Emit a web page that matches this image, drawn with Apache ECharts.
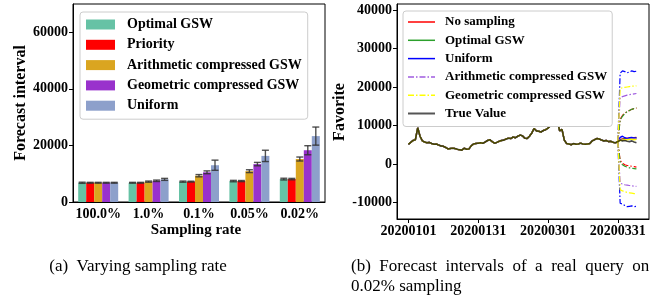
<!DOCTYPE html>
<html>
<head>
<meta charset="utf-8">
<script src="https://cdn.jsdelivr.net/npm/echarts@6/dist/echarts.min.js"></script>
<style>
  html, body { margin: 0; padding: 0; background: #fff; }
  #chart { width: 668px; height: 301px; }
</style>
</head>
<body>
<div id="chart"></div>
<script>
// ---- (a) varying sampling rate ----
const rates = ['100.0%', '1.0%', '0.1%', '0.05%', '0.02%'];
const barNames = ['Optimal GSW', 'Priority', 'Arithmetic compressed GSW', 'Geometric compressed GSW', 'Uniform'];
const optimalMean = [6800, 6800, 7200, 7400, 8100];
const priorityMean = [6800, 6800, 7200, 7400, 8100];
const arithmeticMean = [6800, 7200, 9300, 10900, 15200];
const geometricMean = [6800, 7500, 10500, 13400, 18300];
const uniformMean = [6800, 8000, 13000, 16300, 23300];
const optimalErr = [200, 150, 200, 250, 300];
const priorityErr = [150, 150, 150, 200, 250];
const arithmeticErr = [150, 200, 400, 500, 700];
const geometricErr = [150, 250, 500, 600, 1600];
const uniformErr = [150, 350, 1800, 2000, 3200];
const leftTicks = [0, 20000, 40000, 60000];

// ---- (b) forecast intervals, days counted from 20200101 ----
const tickDays = [0, 30, 60, 90];
const tickLabels = ['20200101', '20200131', '20200301', '20200331'];
const rightTicks = [-10000, 0, 10000, 20000, 30000, 40000];
const trueValue = [
  5100, 5600, 6100, 6300, 9400, 7200, 6000, 5700, 5500, 5600,
  5300, 5100, 5200, 4900, 4700, 4600, 4300, 3900, 4000, 4100,
  4000, 3800, 3700, 3600, 4100, 3800, 3900, 4700, 5200, 5300,
  5400, 5500, 5400, 5700, 6100, 6300, 5800, 5400, 5600, 5900,
  6100, 6200, 6500, 6700, 6600, 7000, 6800, 7200, 7500, 7300,
  6700, 6600, 7200, 8000, 9200, 8600, 8500, 8300, 8700, 8900,
  9300, 9900, 11500, 12200, 11200, 8600, 9000, 6200, 5300, 5200,
  5000, 5300, 5100, 5200, 5400, 5200, 5100, 5200, 5300, 6000,
  6300, 6600, 6500, 6200, 6000, 6100, 5800, 5900, 5600, 5500,
  5800, 6200, 6000, 6100, 5900, 5800, 6000, 5700, 5500
];
const forecastDays = [90, 91, 92, 93, 94, 95, 96, 97, 98];
const noSamplingMid = [5800, 6300, 6500, 6600, 6700, 6700, 6800, 6800, 6900];
const noSamplingUp = [5800, 11600, 12600, 13200, 13600, 13900, 14200, 14400, 14500];
const noSamplingLow = [5800, 900, 200, -200, -400, -500, -600, -700, -800];
const optimalMid = [5800, 6200, 6400, 6500, 6500, 6600, 6600, 6700, 6700];
const optimalUp = [5800, 11400, 12400, 13100, 13600, 13900, 14200, 14400, 14600];
const optimalLow = [5800, 600, -200, -600, -800, -1000, -1100, -1200, -1300];
const uniformMid = [5800, 6900, 7200, 6800, 6600, 6800, 6900, 6700, 6800];
const uniformUp = [5800, 23600, 24200, 24000, 23700, 23900, 24200, 24000, 24100];
const uniformLow = [5800, -10200, -10400, -10800, -11100, -11000, -10900, -11100, -11000];
const arithmeticMid = [5800, 6400, 6300, 6300, 6400, 6400, 6500, 6500, 6500];
const arithmeticUp = [5800, 17300, 17500, 17700, 17900, 18000, 18100, 18200, 18300];
const arithmeticLow = [5800, -5000, -5200, -5400, -5500, -5600, -5700, -5800, -5800];
const geometricMid = [5800, 6100, 6200, 6300, 6300, 6400, 6400, 6300, 6400];
const geometricUp = [5800, 19600, 19800, 19900, 20000, 20100, 20200, 20200, 20300];
const geometricLow = [5800, -6700, -7000, -7200, -7400, -7500, -7600, -7700, -7700];

const serif = '"Liberation Serif", "DejaVu Serif", serif';
const barColors = ['#66c2a5', '#ff0000', '#daa520', '#9932cc', '#8da0cb'];
const means = [optimalMean, priorityMean, arithmeticMean, geometricMean, uniformMean];
const errs = [optimalErr, priorityErr, arithmeticErr, geometricErr, uniformErr];
const barW = 8;

function errorBar(offset) {
  return function (params, api) {
    const x = api.coord([api.value(0), 0])[0] + offset;
    const top = api.coord([api.value(0), api.value(1) + api.value(2)])[1];
    const bot = api.coord([api.value(0), api.value(1) - api.value(2)])[1];
    const style = { stroke: '#333', lineWidth: 1.4, opacity: 0.85 };
    return {
      type: 'group',
      children: [
        { type: 'line', shape: { x1: x, y1: top, x2: x, y2: bot }, style: style },
        { type: 'line', shape: { x1: x - 3.5, y1: top, x2: x + 3.5, y2: top }, style: style },
        { type: 'line', shape: { x1: x - 3.5, y1: bot, x2: x + 3.5, y2: bot }, style: style }
      ]
    };
  };
}

const series = [];
barNames.forEach(function (name, k) {
  series.push({
    type: 'bar', name: name, xAxisIndex: 0, yAxisIndex: 0,
    data: means[k], barWidth: barW, barGap: '0%',
    itemStyle: { color: barColors[k] }
  });
});
barNames.forEach(function (name, k) {
  series.push({
    type: 'custom', xAxisIndex: 0, yAxisIndex: 0, z: 5,
    renderItem: errorBar((k - 2) * barW),
    data: means[k].map(function (v, i) { return [i, v, errs[k][i]]; })
  });
});

const history = trueValue.slice(0, 91).map(function (v, i) { return [i, v]; });
function pairs(vals) { return vals.map(function (v, i) { return [forecastDays[i], v]; }); }
const dashDot = [6, 2, 1.5, 2];
const methods = [
  { name: 'b:No sampling', color: '#ff0000', mid: noSamplingMid, up: noSamplingUp, low: noSamplingLow },
  { name: 'b:Optimal GSW', color: '#2ca02c', mid: optimalMid, up: optimalUp, low: optimalLow },
  { name: 'b:Uniform', color: '#0000ff', mid: uniformMid, up: uniformUp, low: uniformLow },
  { name: 'b:Arithmetic compressed GSW', color: '#a05ce0', mid: arithmeticMid, up: arithmeticUp, low: arithmeticLow },
  { name: 'b:Geometric compressed GSW', color: '#ffff00', mid: geometricMid, up: geometricUp, low: geometricLow }
];
methods.forEach(function (m) {
  const base = { type: 'line', name: m.name, xAxisIndex: 1, yAxisIndex: 1, symbol: 'none', animation: false };
  series.push(Object.assign({}, base, {
    data: history.concat(pairs(m.mid).slice(1)),
    lineStyle: { color: m.color, width: 1.4 }, itemStyle: { color: m.color }
  }));
  series.push(Object.assign({}, base, {
    data: pairs(m.up), lineStyle: { color: m.color, width: 1.2, type: dashDot }, itemStyle: { color: m.color }
  }));
  series.push(Object.assign({}, base, {
    data: pairs(m.low), lineStyle: { color: m.color, width: 1.2, type: dashDot }, itemStyle: { color: m.color }
  }));
});
series.push({
  type: 'line', name: 'b:True Value', xAxisIndex: 1, yAxisIndex: 1, symbol: 'none', animation: false,
  data: trueValue.map(function (v, i) { return [i, v]; }),
  lineStyle: { color: 'rgba(0,0,0,0.72)', width: 1.6 }, itemStyle: { color: '#444' }
});

const plain = function (v) { return String(v); };
const axisFont = { fontFamily: serif, fontWeight: 'bold', fontSize: 14, color: '#000' };
const legendText = function (size, pad) {
  return { fontFamily: serif, fontWeight: 'bold', fontSize: size, lineHeight: size + 1, color: '#000', padding: [0, 0, 0, pad] };
};

const chart = echarts.init(document.getElementById('chart'), null, { renderer: 'canvas' });
chart.setOption({
  animation: false,
  grid: [
    { left: 73, right: 343, top: 4, bottom: 99, show: true, borderColor: '#000', borderWidth: 1 },
    { left: 397, right: 19, top: 4, bottom: 82, show: true, borderColor: '#000', borderWidth: 1 }
  ],
  xAxis: [
    {
      type: 'category', gridIndex: 0, data: rates,
      axisLine: { onZero: false, lineStyle: { color: '#000' } },
      axisTick: { show: false },
      axisLabel: Object.assign({ margin: 5, interval: 0 }, axisFont)
    },
    {
      type: 'value', gridIndex: 1, min: -4.9, max: 103.4,
      splitLine: { show: false },
      axisLine: { onZero: false, lineStyle: { color: '#000' } },
      axisTick: { customValues: tickDays, length: 4, lineStyle: { color: '#000' } },
      axisLabel: Object.assign({
        margin: 5, customValues: tickDays,
        formatter: function (v) { return tickLabels[tickDays.indexOf(v)]; }
      }, axisFont)
    }
  ],
  yAxis: [
    {
      type: 'value', gridIndex: 0, min: 0, max: 70000,
      splitLine: { show: false },
      axisLine: { show: true, onZero: false, lineStyle: { color: '#000' } },
      axisTick: { show: true, customValues: leftTicks, length: 4, lineStyle: { color: '#000' } },
      axisLabel: Object.assign({ margin: 5, customValues: leftTicks, formatter: plain }, axisFont)
    },
    {
      type: 'value', gridIndex: 1, min: -14300, max: 41560,
      splitLine: { show: false },
      axisLine: { show: true, onZero: false, lineStyle: { color: '#000' } },
      axisTick: { show: true, customValues: rightTicks, length: 4, lineStyle: { color: '#000' } },
      axisLabel: Object.assign({ margin: 5, customValues: rightTicks, formatter: plain }, axisFont)
    }
  ],
  legend: [
    {
      left: 80, top: 12, orient: 'vertical', itemWidth: 29, itemHeight: 10, itemGap: 5.3,
      padding: [5, 6, 6, 6], backgroundColor: '#fff',
      borderColor: '#ccc', borderWidth: 1, borderRadius: 3,
      icon: 'rect', selectedMode: false,
      textStyle: legendText(14, 7),
      data: barNames
    },
    {
      left: 403, top: 11, orient: 'vertical', itemWidth: 27, itemHeight: 12, itemGap: 4.3,
      padding: [4, 5, 6, 4], backgroundColor: '#fff',
      borderColor: '#ccc', borderWidth: 1, borderRadius: 3,
      selectedMode: false,
      itemStyle: { opacity: 0 },
      textStyle: legendText(13, 5),
      formatter: function (name) { return name.replace('b:', ''); },
      data: [
        { name: 'b:No sampling', lineStyle: { type: 'solid', width: 1.5 } },
        { name: 'b:Optimal GSW', lineStyle: { type: 'solid', width: 1.5 } },
        { name: 'b:Uniform', lineStyle: { type: 'solid', width: 1.5 } },
        { name: 'b:Arithmetic compressed GSW', lineStyle: { type: dashDot, width: 1.5 } },
        { name: 'b:Geometric compressed GSW', lineStyle: { type: dashDot, width: 1.5 } },
        { name: 'b:True Value', lineStyle: { color: '#555', width: 2 } }
      ]
    }
  ],
  graphic: [
    { type: 'text', x: 21, y: 103, rotation: Math.PI / 2,
      style: { text: 'Forecast interval', font: 'bold 16px ' + serif, fill: '#000', align: 'center', verticalAlign: 'middle' } },
    { type: 'text', x: 196, y: 230,
      style: { text: 'Sampling rate', font: 'bold 15px ' + serif, fill: '#000', align: 'center', verticalAlign: 'middle' } },
    { type: 'text', x: 340, y: 112, rotation: Math.PI / 2,
      style: { text: 'Favorite', font: 'bold 16px ' + serif, fill: '#000', align: 'center', verticalAlign: 'middle' } },
    { type: 'text', x: 138, y: 267,
      style: { text: '(a)  Varying sampling rate', font: '17px ' + serif, fill: '#000', align: 'center', verticalAlign: 'middle' } },
    { type: 'text', x: 351, y: 267,
      style: { text: '(b)  Forecast  intervals  of  a  real  query  on', font: '17px ' + serif, fill: '#000', align: 'left', verticalAlign: 'middle' } },
    { type: 'text', x: 351, y: 287,
      style: { text: '0.02% sampling', font: '17px ' + serif, fill: '#000', align: 'left', verticalAlign: 'middle' } }
  ],
  series: series
});
</script>
</body>
</html>
